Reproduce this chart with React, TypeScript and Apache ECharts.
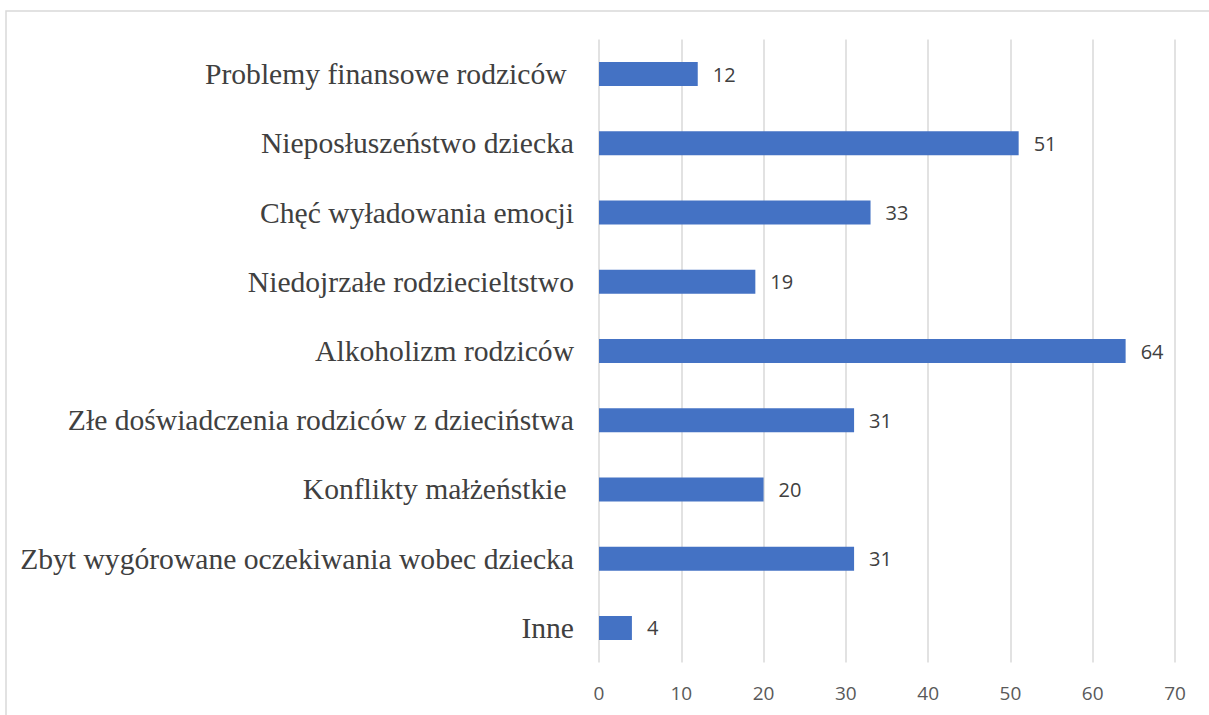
import React, { useEffect, useRef } from "react";
import * as echarts from "echarts";

const categories = [
  "Problemy finansowe rodziców ",
  "Nieposłuszeństwo dziecka",
  "Chęć wyładowania emocji",
  "Niedojrzałe rodziecieltstwo",
  "Alkoholizm rodziców",
  "Złe doświadczenia rodziców z dzieciństwa",
  "Konflikty małżeństkie ",
  "Zbyt wygórowane oczekiwania wobec dziecka",
  "Inne",
];
const values = [12, 51, 33, 19, 64, 31, 20, 31, 4];
const axisMin = 0;
const axisMax = 70;
const axisInterval = 10;

export default function App() {
  const ref = useRef<HTMLDivElement>(null);
  useEffect(() => {
    if (!ref.current) return;
    const chart = echarts.init(ref.current, undefined, { renderer: "svg" });
    chart.setOption({
      animation: false,
      backgroundColor: "#ffffff",
      graphic: [
        {
          type: "rect",
          shape: { x: 6, y: 11, width: 1260, height: 760 },
          style: { fill: "none", stroke: "#d9d9d9", lineWidth: 1.5 },
          silent: true,
          z: -1,
        },
      ],
      grid: { left: 599, right: 34, top: 39.5, bottom: 52.5 },
      xAxis: {
        type: "value",
        min: axisMin,
        max: axisMax,
        interval: axisInterval,
        axisLine: { show: false },
        axisTick: { show: false },
        splitLine: { lineStyle: { color: "#d9d9d9", width: 1.5 } },
        axisLabel: {
          color: "#595959",
          fontSize: 19,
          fontFamily: "Open Sans",
          margin: 21,
        },
      },
      yAxis: {
        type: "category",
        data: categories,
        inverse: true,
        axisLine: { show: false },
        axisTick: { show: false },
        axisLabel: {
          color: "#404040",
          fontSize: 29.6,
          fontFamily: "Liberation Serif",
          margin: 25,
        },
      },
      series: [
        {
          type: "bar",
          data: values,
          barWidth: 24,
          itemStyle: { color: "#4472c4" },
          label: {
            show: true,
            position: "right",
            distance: 15,
            color: "#404040",
            fontSize: 20,
            fontFamily: "Open Sans",
          },
        },
      ],
    });
    return () => chart.dispose();
  }, []);
  return (
    <div
      ref={ref}
      style={{ position: "fixed", left: 0, top: 0, width: 1209, height: 715 }}
    />
  );
}
